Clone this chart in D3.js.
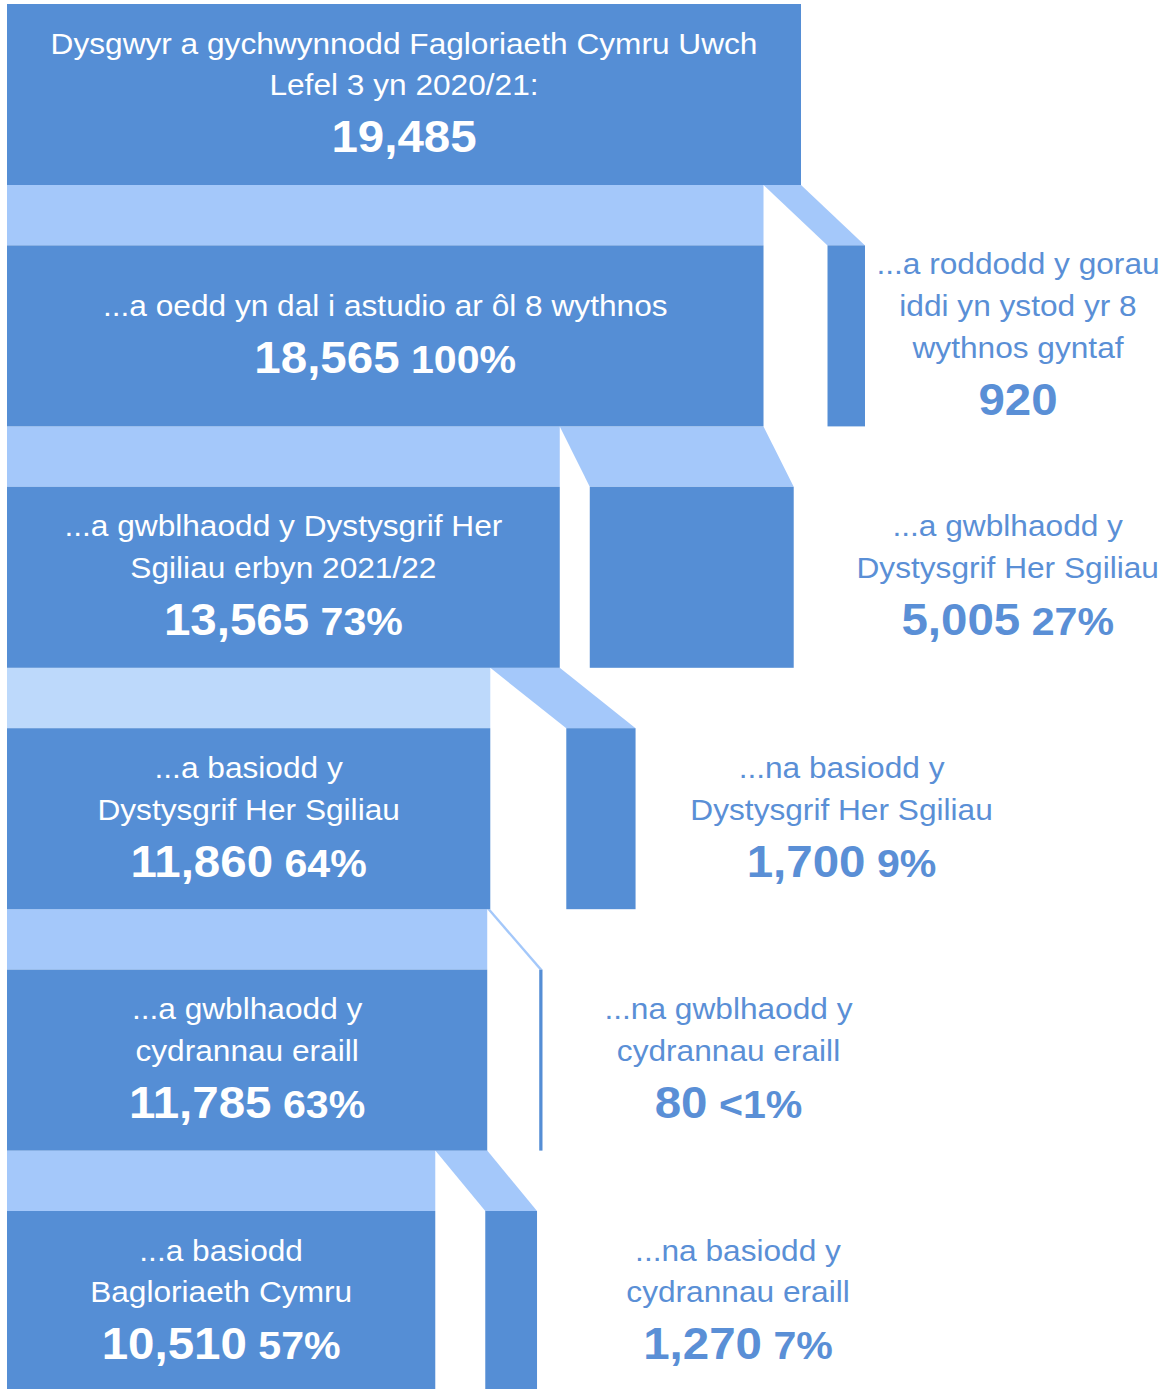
<!DOCTYPE html>
<html>
<head>
<meta charset="utf-8">
<script src="https://cdn.jsdelivr.net/npm/d3@7"></script>
<style>
  html, body { margin: 0; padding: 0; background: #ffffff; }
  svg { display: block; }
</style>
</head>
<body>
<svg id="chart" width="1167" height="1389"></svg>
<script>
// ---------- DATA ----------
const stageLabels = [
  ["Dysgwyr a gychwynnodd Fagloriaeth Cymru Uwch", "Lefel 3 yn 2020/21:"],
  ["...a oedd yn dal i astudio ar ôl 8 wythnos"],
  ["...a gwblhaodd y Dystysgrif Her", "Sgiliau erbyn 2021/22"],
  ["...a basiodd y", "Dystysgrif Her Sgiliau"],
  ["...a gwblhaodd y", "cydrannau eraill"],
  ["...a basiodd", "Bagloriaeth Cymru"]
];
const stageValues = [19485, 18565, 13565, 11860, 11785, 10510];
const stagePct = ["", "100%", "73%", "64%", "63%", "57%"];

const exitLabels = [
  ["...a roddodd y gorau", "iddi yn ystod yr 8", "wythnos gyntaf"],
  ["...a gwblhaodd y", "Dystysgrif Her Sgiliau"],
  ["...na basiodd y", "Dystysgrif Her Sgiliau"],
  ["...na gwblhaodd y", "cydrannau eraill"],
  ["...na basiodd y", "cydrannau eraill"]
];
const exitValues = [920, 5005, 1700, 80, 1270];
const exitPct = ["", "27%", "9%", "<1%", "7%"];

// ---------- LAYOUT ----------
const left = 7;
const firstTop = 4, rowStep = 241.4, barH = 181;
const exitGap = [64, 30, 76, 52, 50];
const exitLabelOffset = [153, 214, 206, 186, 201];
const dark = "#558ED5", light = "#A4C8FA", lighter = "#BDD9FB", textBlue = "#5A8FD6";
const sx = 1.055;
const labelSize = 30, numSize = 45, pctSize = 39;
const lineH = 41.8, numGap = 57;
const asc = 21;

const svg = d3.select("#chart");
const x = d3.scaleLinear().domain([0, stageValues[0]]).range([0, 794]);
const rowTop = i => firstTop + i * rowStep;
const fmt = d3.format(",");

for (let i = 1; i < stageValues.length; i++) {
  const prevBottom = rowTop(i - 1) + barH;
  const curTop = rowTop(i);
  const xEnd = left + x(stageValues[i]);
  const xPrevEnd = left + x(stageValues[i - 1]);
  const exStart = xEnd + exitGap[i - 1];
  const exEnd = exStart + x(exitValues[i - 1]);
  svg.append("rect")
    .attr("x", left).attr("y", prevBottom)
    .attr("width", xEnd - left).attr("height", curTop - prevBottom)
    .attr("fill", i === 3 ? lighter : light);
  svg.append("path")
    .attr("d", d3.line()([[xEnd, prevBottom], [xPrevEnd, prevBottom], [exEnd, curTop], [exStart, curTop]]) + "Z")
    .attr("fill", light);
}

svg.selectAll("rect.stage").data(stageValues).join("rect")
  .attr("class", "stage")
  .attr("x", left).attr("y", (d, i) => rowTop(i))
  .attr("width", d => x(d)).attr("height", barH)
  .attr("fill", dark);

svg.selectAll("rect.exit").data(exitValues).join("rect")
  .attr("class", "exit")
  .attr("x", (d, i) => left + x(stageValues[i + 1]) + exitGap[i])
  .attr("y", (d, i) => rowTop(i + 1))
  .attr("width", d => x(d)).attr("height", barH)
  .attr("fill", dark);

function textBlock(cx, yTop, lines, value, pct, color) {
  const n = lines.length;
  const blockH = asc + (n - 1) * lineH + numGap;
  const b0 = yTop + (barH - blockH) / 2 + asc - 2;
  const g = svg.append("g").attr("fill", color)
    .attr("font-family", "'Liberation Sans', Arial, sans-serif");
  lines.forEach((ln, k) => {
    g.append("text")
      .attr("transform", `translate(${cx},${b0 + k * lineH}) scale(${sx},1)`)
      .attr("text-anchor", "middle")
      .attr("font-size", labelSize)
      .text(ln);
  });
  const t = g.append("text")
    .attr("transform", `translate(${cx},${b0 + (n - 1) * lineH + numGap}) scale(${sx},1)`)
    .attr("text-anchor", "middle")
    .attr("font-weight", "bold");
  t.append("tspan").attr("font-size", numSize).text(fmt(value));
  if (pct) t.append("tspan").attr("font-size", pctSize).text(" " + pct);
}

stageValues.forEach((v, i) => {
  textBlock(left + x(v) / 2, rowTop(i), stageLabels[i], v, stagePct[i], "#ffffff");
});
exitValues.forEach((v, i) => {
  const exEnd = left + x(stageValues[i + 1]) + exitGap[i] + x(v);
  textBlock(exEnd + exitLabelOffset[i], rowTop(i + 1), exitLabels[i], v, exitPct[i], textBlue);
});
</script>
</body>
</html>
